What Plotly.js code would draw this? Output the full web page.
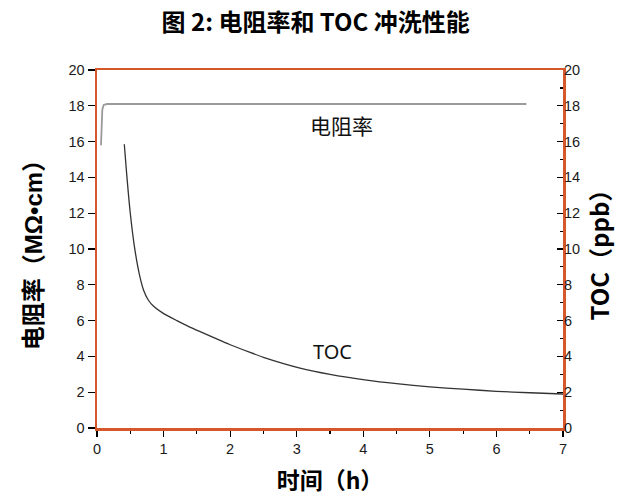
<!DOCTYPE html>
<html>
<head>
<meta charset="utf-8">
<script src="https://cdn.plot.ly/plotly-3.0.1.min.js"></script>
<style>html,body{margin:0;padding:0;background:#fff;}#chart{width:619px;height:500px;}</style>
</head>
<body>
<div id="chart"></div>
<script>
// Data
const timeRes = [0.06, 0.07, 0.08, 0.10, 0.15, 6.45];
const resistivity = [15.8, 17.0, 17.8, 18.05, 18.1, 18.1];
const timeToc = [0.41, 0.45, 0.50, 0.57, 0.645, 0.70, 0.77, 0.85, 0.99, 1.2, 1.35, 1.55, 2.0, 2.3, 2.5, 3.05, 3.5, 4.05, 4.5, 5.0, 5.5, 6.0, 6.5, 7.0];
const toc = [15.85, 14.0, 12.0, 9.94, 8.44, 7.7, 7.15, 6.8, 6.42, 6.0, 5.72, 5.38, 4.65, 4.22, 3.95, 3.35, 3.0, 2.68, 2.48, 2.3, 2.17, 2.05, 1.97, 1.9];
const labelRes = {x: 3.68, y: 16.9, text: '电阻率'};
const labelToc = {x: 3.54, y: 4.3, text: 'TOC'};

const frame = '#d4582a';
const tickFont = {family: 'Liberation Sans, Arial, sans-serif', size: 14.5, color: '#1a1a1a'};
const cjk = 'Noto Sans CJK SC, sans-serif';
const latin = 'font-family:Liberation Sans, Arial, sans-serif';

const traces = [
  {x: timeRes, y: resistivity, type: 'scatter', mode: 'lines', line: {color: '#9a9a9a', width: 1.8}, xaxis: 'x', yaxis: 'y', hoverinfo: 'skip'},
  {x: timeToc, y: toc, type: 'scatter', mode: 'lines', line: {color: '#333', width: 1.3, shape: 'spline', smoothing: 0.6}, xaxis: 'x', yaxis: 'y2', hoverinfo: 'skip'}
];

const layout = {
  width: 619, height: 500,
  margin: {l: 97, r: 56, t: 70, b: 72},
  paper_bgcolor: '#fff', plot_bgcolor: '#fff',
  showlegend: false,
  title: {text: '<b>图 2: 电阻率和 TOC 冲洗性能</b>', font: {family: cjk, size: 24, color: '#000'}, x: 0.51, xref: 'container', y: 0.955, yref: 'container', yanchor: 'middle'},
  xaxis: {
    range: [0, 7], dtick: 1, showgrid: false, zeroline: false,
    showline: true, linecolor: frame, linewidth: 2.5, mirror: true,
    ticks: 'outside', ticklen: 6, tickwidth: 1.2, tickcolor: '#000',
    minor: {dtick: 0.5, ticks: 'outside', ticklen: 3, tickwidth: 1.2, tickcolor: '#000'},
    tickfont: tickFont,
    title: {text: '<b>时间（h）</b>', font: {family: cjk, size: 23, color: '#000'}, standoff: 17}
  },
  xaxis2: {
    range: [0, 7], dtick: 1, overlaying: 'x', side: 'top', anchor: 'y',
    showgrid: false, zeroline: false, showline: false, showticklabels: false,
    ticks: 'inside', ticklen: 6, tickwidth: 1.2, tickcolor: '#000',
    minor: {dtick: 0.5, ticks: 'inside', ticklen: 3, tickwidth: 1.2, tickcolor: '#000'}
  },
  yaxis: {
    range: [0, 20], dtick: 2, showgrid: false, zeroline: false,
    showline: true, linecolor: frame, linewidth: 2.5, mirror: true,
    ticks: 'outside', ticklen: 7, tickwidth: 1.2, tickcolor: '#000',
    tickfont: tickFont,
    title: {text: '<b>电阻率（<span style="' + latin + '">MΩ•cm</span>）</b>', font: {family: cjk, size: 24, color: '#000'}, standoff: 19}
  },
  yaxis3: {
    range: [0, 20], dtick: 2, overlaying: 'y', side: 'left', anchor: 'x',
    showgrid: false, zeroline: false, showline: false, showticklabels: false,
    ticks: 'inside', ticklen: 7, tickwidth: 1.2, tickcolor: '#000',
    minor: {dtick: 1, ticks: 'inside', ticklen: 3, tickwidth: 1.2, tickcolor: '#000'}
  },
  yaxis2: {
    range: [0, 20], dtick: 2, overlaying: 'y', side: 'right', anchor: 'x',
    showgrid: false, zeroline: false, showline: false,
    ticks: 'inside', ticklen: 6, tickwidth: 1.2, tickcolor: '#000',
    minor: {dtick: 1, ticks: 'inside', ticklen: 3, tickwidth: 1.2, tickcolor: '#000'},
    tickfont: tickFont,
    title: {text: '<b>TOC（ppb）</b>', font: {family: cjk, size: 24, color: '#000'}, standoff: 13}
  },
  annotations: [
    {x: labelRes.x, y: labelRes.y, xref: 'x', yref: 'y', text: labelRes.text, showarrow: false, font: {family: cjk, size: 21, color: '#111'}},
    {x: labelToc.x, y: labelToc.y, xref: 'x', yref: 'y', text: labelToc.text, showarrow: false, font: {family: 'Noto Sans, sans-serif', size: 20, color: '#111'}}
  ]
};

Plotly.newPlot('chart', traces, layout, {displayModeBar: false, staticPlot: true});
</script>
</body>
</html>
